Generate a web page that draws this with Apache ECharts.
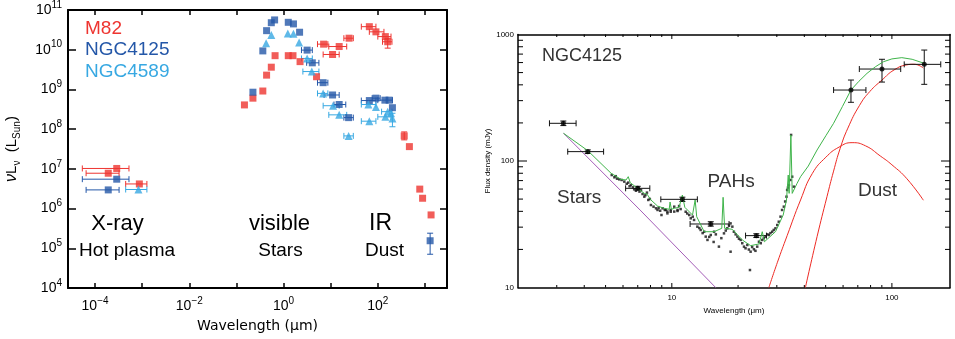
<!DOCTYPE html>
<html>
<head>
<meta charset="utf-8">
<script src="https://cdn.jsdelivr.net/npm/echarts@6/dist/echarts.min.js"></script>
<style>
  html, body { margin: 0; background: #fff; }
  #chart { width: 955px; height: 339px; }
</style>
</head>
<body>
<div id="chart"></div>
<script>
// ---- left panel: values are log10(wavelength / um), log10(nuL_nu / Lsun)
// rows: [x, y, xErrLo, xErrHi, yErrLo, yErrHi]
const m82 = [
  [-3.54, 7.01, -4.27, -3.28], [-3.72, 6.89, -4.19, -3.49], [-3.06, 6.62, -3.35, -2.90],
  [-0.83, 8.61], [-0.65, 8.78], [-0.44, 8.96], [-0.36, 9.36], [-0.26, 9.56], [-0.18, 9.85],
  [0.10, 9.85], [0.20, 9.85], [0.35, 9.70], [0.70, 9.32],
  [0.85, 10.14, 0.72, 0.94], [1.04, 9.88, 0.84, 1.18], [1.18, 10.08, 0.96, 1.34], [1.39, 10.29, 1.28, 1.48],
  [1.82, 10.58, 1.65, 1.96], [1.96, 10.45, 1.82, 2.13], [2.16, 10.33, 2.0, 2.28], [2.21, 10.20, 2.1, 2.3, 10.04, 10.29],
  [2.56, 7.83, null, null, 7.73, 7.93], [2.67, 7.56], [2.89, 6.49], [2.95, 6.26], [3.13, 5.84]
];
const ngc4125 = [
  [-3.54, 6.74, -4.27, -3.28], [-3.72, 6.47, -4.19, -3.49],
  [-0.65, 8.93], [-0.44, 9.97], [-0.36, 10.48], [-0.26, 10.68], [-0.19, 10.75],
  [0.10, 10.69], [0.21, 10.65], [0.34, 10.44],
  [0.50, 9.99, 0.38, 0.61], [0.61, 9.67, 0.49, 0.75], [0.84, 9.17, 0.72, 0.94],
  [1.04, 8.86, 0.86, 1.18], [1.18, 8.62, 1.07, 1.32], [1.38, 8.29, 1.28, 1.48],
  [1.82, 8.72, 1.65, 1.96], [1.96, 8.78, 1.88, 2.05], [2.15, 8.73, 2.0, 2.31], [2.24, 8.73], [2.31, 8.54],
  [3.11, 5.19, null, null, 4.85, 5.38]
];
const ngc4589 = [
  [-3.08, 6.48, -3.35, -2.90],
  [-0.37, 10.16], [-0.26, 10.37], [0.09, 10.41], [0.21, 10.40], [0.33, 10.18],
  [0.50, 9.78, 0.38, 0.61], [0.60, 9.45, 0.41, 0.75], [0.84, 8.90, 0.72, 0.94],
  [1.05, 8.59, 0.84, 1.18], [1.18, 8.36, 0.96, 1.34], [1.38, 7.83, 1.28, 1.48],
  [1.80, 8.62, 1.65, 1.96], [1.82, 8.20, 1.65, 1.96], [1.96, 8.56], [2.16, 8.31, 2.0, 2.28],
  [2.21, 8.44, 2.08, 2.3], [2.28, 8.40], [2.31, 8.27, null, null, 8.06, 8.40]
];

// ---- right panel (NGC4125 SED): log10(wavelength / um), log10(flux / mJy)
const photLgX  = [0.507, 0.618, 0.845, 1.048, 1.177, 1.384, 1.814, 1.955, 2.147];
const photLgY  = [2.298, 2.074, 1.784, 1.697, 1.502, 1.410, 2.561, 2.727, 2.764];
const photXlo  = [0.444, 0.527, 0.790, 0.950, 1.083, 1.335, 1.735, 1.852, 2.056];
const photXhi  = [0.565, 0.690, 0.900, 1.116, 1.260, 1.430, 1.882, 2.040, 2.222];
const photYlo  = [2.280, 2.060, 1.770, 1.680, 1.485, 1.395, 2.464, 2.624, 2.606];
const photYhi  = [2.316, 2.088, 1.800, 1.714, 1.520, 1.425, 2.640, 2.804, 2.877];

const specLg = [
  [0.727,1.889],[0.739,1.871],[0.751,1.860],[0.761,1.855],[0.772,1.850],[0.784,1.837],[0.802,1.829],
  [0.814,1.810],[0.823,1.792],[0.829,1.776],[0.837,1.765],[0.844,1.792],[0.853,1.758],[0.860,1.771],
  [0.867,1.739],[0.875,1.718],[0.887,1.750],[0.893,1.692],[0.905,1.652],[0.917,1.639],[0.928,1.626],
  [0.935,1.613],[0.947,1.607],[0.953,1.573],[0.968,1.613],[0.980,1.600],[0.995,1.613],[1.011,1.600],
  [1.026,1.605],[0.958,1.626],[0.973,1.613],[0.980,1.586],[0.995,1.599],[1.011,1.639],[1.026,1.613],
  [1.033,1.644],[1.063,1.599],[1.079,1.573],[1.086,1.547],[1.101,1.534],[1.116,1.481],[1.131,1.455],
  [1.147,1.441],[1.154,1.402],[1.162,1.376],[1.177,1.415],[1.192,1.441],[1.214,1.323],[1.237,1.428],
  [1.252,1.468],[1.267,1.507],[1.275,1.481],[1.282,1.441],[1.298,1.402],[1.313,1.376],[1.328,1.323],
  [1.343,1.336],[1.358,1.283],[1.373,1.302],[1.388,1.323],[1.396,1.362],[1.411,1.376],[1.426,1.402],
  [1.441,1.415],[1.456,1.441],[1.471,1.468],[1.479,1.494],[1.494,1.560],[1.501,1.613],[1.509,1.639],
  [1.521,1.718],[1.524,1.771],[1.532,1.810],[1.539,1.850],[1.547,1.876],[1.554,1.797],[1.542,2.206],
  [1.355,1.138],[1.267,1.283],[1.190,1.360],
  [0.745,1.880],[0.795,1.820],[0.808,1.800],[0.850,1.780],[0.880,1.730],[0.900,1.700],[0.940,1.630],
  [1.040,1.620],[1.070,1.585],[1.095,1.560],[1.125,1.470],[1.140,1.430],[1.170,1.400],[1.200,1.420],
  [1.225,1.390],[1.245,1.450],[1.260,1.490],[1.290,1.420],[1.305,1.385],[1.320,1.350],[1.335,1.310],
  [1.350,1.300],[1.365,1.320],[1.380,1.290],[1.404,1.350],[1.418,1.390],[1.434,1.420],[1.448,1.430],
  [1.463,1.455],[1.486,1.520],[1.515,1.680],[1.528,1.790]
];
const totalModelLg = [
  [0.508,2.219],[0.618,2.082],[0.724,1.903],[0.769,1.855],[0.792,1.850],[0.802,1.876],[0.811,1.829],
  [0.844,1.784],[0.875,1.744],[0.887,1.739],[0.905,1.692],[0.935,1.644],[0.965,1.626],[0.988,1.618],
  [0.992,1.676],[0.998,1.618],[1.011,1.626],[1.033,1.634],[1.048,1.731],[1.059,1.634],[1.094,1.573],
  [1.106,1.692],[1.113,1.560],[1.147,1.441],[1.192,1.441],[1.227,1.468],[1.233,1.713],[1.240,1.468],
  [1.275,1.460],[1.320,1.376],[1.358,1.331],[1.396,1.344],[1.411,1.441],[1.421,1.362],[1.471,1.441],
  [1.506,1.573],[1.521,1.692],[1.529,1.889],[1.533,1.744],[1.541,2.206],[1.547,1.744],[1.569,1.823],
  [1.585,1.876],[1.620,1.960],[1.660,2.087],[1.700,2.200],[1.735,2.298],[1.775,2.430],[1.814,2.561],
  [1.850,2.630],[1.887,2.693],[1.925,2.745],[1.962,2.785],[2.000,2.807],[2.045,2.817],[2.092,2.804],
  [2.147,2.772]
];
const starsLg = [[0.508,2.219],[0.860,1.605],[1.199,1.0]];
const warmDustLg = [
  [1.441,1.0],[1.480,1.20],[1.524,1.41],[1.585,1.692],[1.638,1.90],[1.700,2.03],[1.760,2.11],
  [1.819,2.145],[1.880,2.12],[1.947,2.04],[2.000,1.97],[2.068,1.86],[2.143,1.69]
];
const coldDustLg = [
  [1.607,1.0],[1.660,1.402],[1.705,1.718],[1.735,1.92],[1.765,2.10],[1.800,2.26],[1.853,2.44],
  [1.900,2.55],[1.955,2.64],[2.010,2.72],[2.068,2.76],[2.100,2.765],[2.143,2.735]
];
const fluxTickX = [3, 4, 5, 6, 7, 8, 9, 10, 20, 30, 40, 50, 60, 70, 80, 90, 100];
const fluxTickY = [20, 30, 40, 50, 60, 70, 80, 90, 100, 200, 300, 400, 500, 600, 700, 800, 900];

const RED = '#ee3430', DBLUE = '#2457a8', LBLUE = '#37a8e2';
const FONT = '"Liberation Sans", Arial, Helvetica, sans-serif';
const LX_MIN = -4.574, LX_MAX = 3.468;
const RX_MIN = Math.log10(2), RX_MAX = 2.264, RY_MIN = 1, RY_MAX = 3;

const isInt = v => Math.abs(v - Math.round(v)) < 1e-6;
const powLabel = v => '{b|10}{s|' + String(Math.round(v)).replace('-', '\u2212') + '}';
const powRich = {
  b: { fontSize: 14, fontFamily: FONT, color: '#000', lineHeight: 20 },
  s: { fontSize: 10, fontFamily: FONT, color: '#000', verticalAlign: 'top', lineHeight: 11 }
};

function errSeries(rows, color, axisIdx, cap) {
  return {
    type: 'custom', xAxisIndex: axisIdx, yAxisIndex: axisIdx, silent: true, z: 3,
    data: rows.map(r => [r[0], r[1]]),
    renderItem(params, api) {
      const r = rows[params.dataIndex];
      const kids = [];
      const st = { stroke: color, lineWidth: 1 };
      const seg = (x1, y1, x2, y2) => kids.push({ type: 'line', shape: { x1, y1, x2, y2 }, style: st });
      if (r[2] != null) {
        const a = api.coord([r[2], r[1]]), b = api.coord([r[3], r[1]]);
        seg(a[0], a[1], b[0], b[1]);
        seg(a[0], a[1] - cap, a[0], a[1] + cap);
        seg(b[0], b[1] - cap, b[0], b[1] + cap);
      }
      if (r[4] != null) {
        const a = api.coord([r[0], r[4]]), b = api.coord([r[0], r[5]]);
        seg(a[0], a[1], b[0], b[1]);
        seg(a[0] - cap, a[1], a[0] + cap, a[1]);
        seg(b[0] - cap, b[1], b[0] + cap, b[1]);
      }
      return { type: 'group', children: kids };
    }
  };
}

const photRows = photLgX.map((x, i) => [x, photLgY[i], photXlo[i], photXhi[i], photYlo[i], photYhi[i]]);

// minor / major ticks for the log axes of the right panel
const tickSeries = {
  type: 'custom', xAxisIndex: 2, yAxisIndex: 2, silent: true, z: 5,
  data: fluxTickX.map(v => [Math.log10(v), RY_MIN, 0]).concat(fluxTickY.map(v => [RX_MIN, Math.log10(v), 1])),
  renderItem(params, api) {
    const isY = api.value(2) === 1;
    const st = { stroke: '#000', lineWidth: 1 };
    if (!isY) {
      const lg = api.value(0);
      const len = isInt(lg) ? 4.5 : 2.5;
      const b = api.coord([lg, RY_MIN]), t = api.coord([lg, RY_MAX]);
      return { type: 'group', children: [
        { type: 'line', shape: { x1: b[0], y1: b[1], x2: b[0], y2: b[1] - len }, style: st },
        { type: 'line', shape: { x1: t[0], y1: t[1], x2: t[0], y2: t[1] + len }, style: st }
      ] };
    }
    const lg = api.value(1);
    const len = isInt(lg) ? 9 : 5;
    const l = api.coord([RX_MIN, lg]), r = api.coord([RX_MAX, lg]);
    return { type: 'group', children: [
      { type: 'line', shape: { x1: l[0], y1: l[1], x2: l[0] + len, y2: l[1] }, style: st },
      { type: 'line', shape: { x1: r[0], y1: r[1], x2: r[0] - len, y2: r[1] }, style: st }
    ] };
  }
};

const leftLine = { onZero: false, lineStyle: { color: '#000', width: 2 } };
const rightLine = { onZero: false, lineStyle: { color: '#000', width: 1.5 } };

const chart = echarts.init(document.getElementById('chart'), null, { renderer: 'canvas' });
chart.setOption({
  animation: false,
  backgroundColor: '#fff',
  grid: [
    { left: 68, top: 10, width: 379, height: 278 },
    { left: 518, top: 34.5, width: 432, height: 253 }
  ],
  xAxis: [
    { gridIndex: 0, type: 'value', min: LX_MIN, max: LX_MAX, minInterval: 1, maxInterval: 1, splitNumber: 8,
      axisLine: leftLine, splitLine: { show: false },
      axisTick: { inside: true, length: 5, lineStyle: { width: 1.5 } },
      axisLabel: { margin: 8, rich: powRich, formatter: v => (isInt(v) && Math.round(v) % 2 === 0) ? powLabel(v) : '' },
      name: 'Wavelength (\u03bcm)', nameLocation: 'middle', nameGap: 31,
      nameTextStyle: { fontFamily: '"DejaVu Sans", sans-serif', fontSize: 14, color: '#000' } },
    { gridIndex: 0, type: 'value', position: 'top', min: LX_MIN, max: LX_MAX, minInterval: 1, maxInterval: 1, splitNumber: 8,
      axisLine: leftLine, splitLine: { show: false },
      axisTick: { inside: true, length: 5, lineStyle: { width: 1.5 } }, axisLabel: { show: false } },
    { gridIndex: 1, type: 'value', min: RX_MIN, max: RX_MAX, minInterval: 1, maxInterval: 1,
      axisLine: rightLine, splitLine: { show: false }, axisTick: { show: false },
      axisLabel: { margin: 6, fontSize: 8, fontFamily: FONT, color: '#000',
        formatter: v => isInt(v) ? String(Math.pow(10, Math.round(v))) : '' },
      name: 'Wavelength (\u03bcm)', nameLocation: 'middle', nameGap: 19,
      nameTextStyle: { fontFamily: FONT, fontSize: 8, color: '#000' } },
    { gridIndex: 1, type: 'value', position: 'top', min: RX_MIN, max: RX_MAX,
      axisLine: rightLine, splitLine: { show: false }, axisTick: { show: false }, axisLabel: { show: false } }
  ],
  yAxis: [
    { gridIndex: 0, type: 'value', min: 4, max: 11, interval: 1,
      axisLine: leftLine, splitLine: { show: false },
      axisTick: { inside: true, length: 8, lineStyle: { width: 1.5 } },
      axisLabel: { margin: 6, rich: powRich, formatter: v => powLabel(v) },
      name: '{i|\u03bd}{n|L}{u|\u03bd}{n|  (L}{u|Sun}{n|)}', nameLocation: 'middle', nameGap: 46, nameRotate: 90,
      nameTextStyle: { rich: {
        i: { fontSize: 16, fontFamily: FONT, fontStyle: 'italic', color: '#000', lineHeight: 20 },
        n: { fontSize: 15, fontFamily: FONT, color: '#000', lineHeight: 20 },
        u: { fontSize: 10, fontFamily: FONT, color: '#000', verticalAlign: 'bottom', lineHeight: 12 }
      } } },
    { gridIndex: 0, type: 'value', position: 'right', min: 4, max: 11, interval: 1,
      axisLine: leftLine, splitLine: { show: false },
      axisTick: { inside: true, length: 7, lineStyle: { width: 1.5 } }, axisLabel: { show: false } },
    { gridIndex: 1, type: 'value', min: RY_MIN, max: RY_MAX, interval: 1,
      axisLine: rightLine, splitLine: { show: false }, axisTick: { show: false },
      axisLabel: { margin: 4, fontSize: 8, fontFamily: FONT, color: '#000',
        formatter: v => String(Math.pow(10, Math.round(v))) },
      name: 'Flux density (mJy)', nameLocation: 'middle', nameGap: 26, nameRotate: 90,
      nameTextStyle: { fontFamily: FONT, fontSize: 8, color: '#000' } },
    { gridIndex: 1, type: 'value', position: 'right', min: RY_MIN, max: RY_MAX,
      axisLine: rightLine, splitLine: { show: false }, axisTick: { show: false }, axisLabel: { show: false } }
  ],
  series: [
    errSeries(m82, RED, 0, 3),
    errSeries(ngc4125, DBLUE, 0, 3),
    errSeries(ngc4589, LBLUE, 0, 3),
    { name: 'M82', type: 'scatter', xAxisIndex: 0, yAxisIndex: 0, symbol: 'rect', symbolSize: 7,
      itemStyle: { color: RED }, data: m82.map(r => [r[0], r[1]]), z: 4 },
    { name: 'NGC4125', type: 'scatter', xAxisIndex: 0, yAxisIndex: 0, symbol: 'rect', symbolSize: 7,
      itemStyle: { color: DBLUE }, data: ngc4125.map(r => [r[0], r[1]]), z: 4 },
    { name: 'NGC4589', type: 'scatter', xAxisIndex: 0, yAxisIndex: 0, symbol: 'triangle', symbolSize: 8,
      itemStyle: { color: LBLUE }, data: ngc4589.map(r => [r[0], r[1]]), z: 4 },

    { type: 'scatter', xAxisIndex: 2, yAxisIndex: 2, symbol: 'rect', symbolSize: 2.5,
      itemStyle: { color: '#111' }, data: specLg, z: 2 },
    { type: 'line', xAxisIndex: 2, yAxisIndex: 2, data: starsLg, showSymbol: false,
      lineStyle: { color: '#a45db8', width: 1 }, z: 2 },
    { type: 'line', xAxisIndex: 2, yAxisIndex: 2, data: warmDustLg, showSymbol: false, smooth: true,
      lineStyle: { color: '#ee2a24', width: 1 }, z: 2 },
    { type: 'line', xAxisIndex: 2, yAxisIndex: 2, data: coldDustLg, showSymbol: false, smooth: true,
      lineStyle: { color: '#ee2a24', width: 1 }, z: 2 },
    { type: 'line', xAxisIndex: 2, yAxisIndex: 2, data: totalModelLg, showSymbol: false,
      lineStyle: { color: '#3fb44a', width: 1 }, z: 3 },
    errSeries(photRows, '#111', 2, 3),
    { type: 'scatter', xAxisIndex: 2, yAxisIndex: 2, symbol: 'circle', symbolSize: 5,
      itemStyle: { color: '#000' }, data: photRows.map(r => [r[0], r[1]]), z: 4 },
    tickSeries
  ],
  graphic: [
    { type: 'text', x: 85, y: 29, style: { text: 'M82', fill: RED, font: '19px ' + FONT, textVerticalAlign: 'middle' } },
    { type: 'text', x: 85, y: 50, style: { text: 'NGC4125', fill: DBLUE, font: '19px ' + FONT, textVerticalAlign: 'middle' } },
    { type: 'text', x: 85, y: 72, style: { text: 'NGC4589', fill: LBLUE, font: '19px ' + FONT, textVerticalAlign: 'middle' } },
    { type: 'text', x: 117.5, y: 224, style: { text: 'X-ray', fill: '#000', font: '22px ' + FONT, textAlign: 'center', textVerticalAlign: 'middle' } },
    { type: 'text', x: 127, y: 251, style: { text: 'Hot plasma', fill: '#000', font: '19px ' + FONT, textAlign: 'center', textVerticalAlign: 'middle' } },
    { type: 'text', x: 279.5, y: 224, style: { text: 'visible', fill: '#000', font: '22px ' + FONT, textAlign: 'center', textVerticalAlign: 'middle' } },
    { type: 'text', x: 280.5, y: 251, style: { text: 'Stars', fill: '#000', font: '19px ' + FONT, textAlign: 'center', textVerticalAlign: 'middle' } },
    { type: 'text', x: 380.5, y: 224, style: { text: 'IR', fill: '#000', font: '23px ' + FONT, textAlign: 'center', textVerticalAlign: 'middle' } },
    { type: 'text', x: 384.5, y: 251, style: { text: 'Dust', fill: '#000', font: '19px ' + FONT, textAlign: 'center', textVerticalAlign: 'middle' } },
    { type: 'text', x: 542, y: 56, style: { text: 'NGC4125', fill: '#333', font: '18px ' + FONT, textVerticalAlign: 'middle' } },
    { type: 'text', x: 557, y: 198, style: { text: 'Stars', fill: '#333', font: '19px ' + FONT, textVerticalAlign: 'middle' } },
    { type: 'text', x: 707.5, y: 182, style: { text: 'PAHs', fill: '#333', font: '19px ' + FONT, textVerticalAlign: 'middle' } },
    { type: 'text', x: 858, y: 191, style: { text: 'Dust', fill: '#333', font: '19px ' + FONT, textVerticalAlign: 'middle' } }
  ]
});
</script>
</body>
</html>
